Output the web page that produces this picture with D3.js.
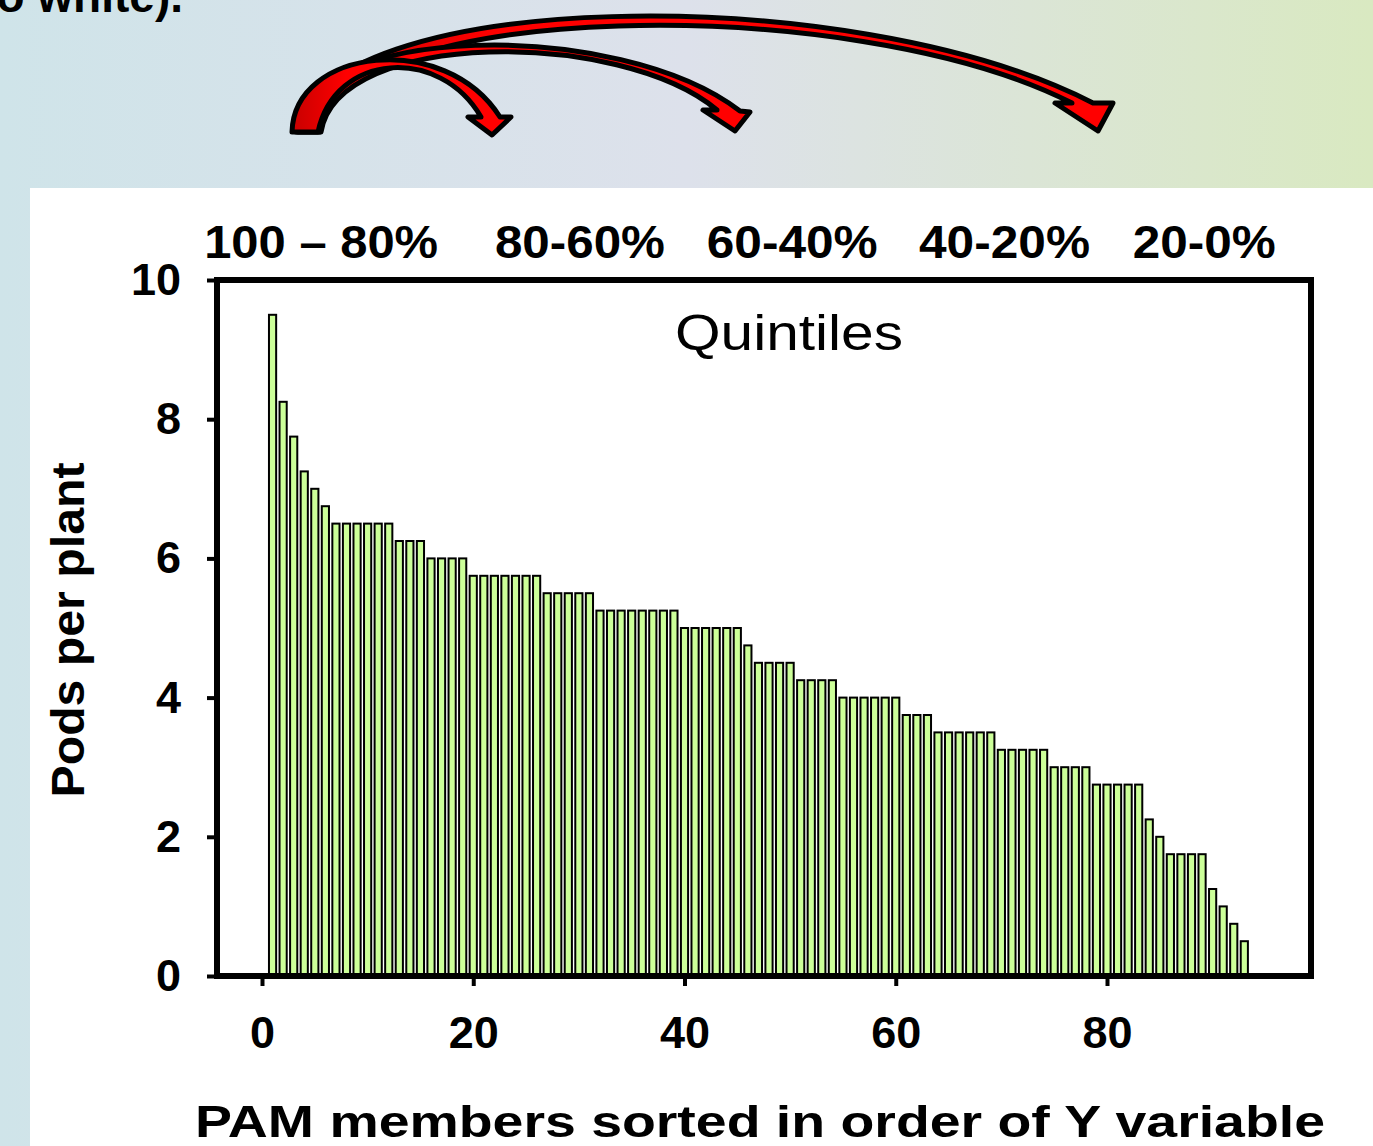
<!DOCTYPE html>
<html><head><meta charset="utf-8">
<script src="https://cdn.jsdelivr.net/npm/d3@7"></script>
<style>
html,body{margin:0;padding:0;overflow:hidden;background:#fff}
svg{display:block}
</style></head>
<body>
<script>
// ---- data ----
const members = [1,2,3,4,5,6,7,8,9,10,11,12,13,14,15,16,17,18,19,20,21,22,23,24,25,26,27,28,29,30,
  31,32,33,34,35,36,37,38,39,40,41,42,43,44,45,46,47,48,49,50,51,52,53,54,55,56,57,58,59,60,
  61,62,63,64,65,66,67,68,69,70,71,72,73,74,75,76,77,78,79,80,81,82,83,84,85,86,87,88,89,90,91,92,93];
const podsPerPlant = [9.5,8.25,7.75,7.25,7.0,6.75,
  6.5,6.5,6.5,6.5,6.5,6.5,
  6.25,6.25,6.25,
  6.0,6.0,6.0,6.0,
  5.75,5.75,5.75,5.75,5.75,5.75,5.75,
  5.5,5.5,5.5,5.5,5.5,
  5.25,5.25,5.25,5.25,5.25,5.25,5.25,5.25,
  5.0,5.0,5.0,5.0,5.0,5.0,
  4.75,
  4.5,4.5,4.5,4.5,
  4.25,4.25,4.25,4.25,
  4.0,4.0,4.0,4.0,4.0,4.0,
  3.75,3.75,3.75,
  3.5,3.5,3.5,3.5,3.5,3.5,
  3.25,3.25,3.25,3.25,3.25,
  3.0,3.0,3.0,3.0,
  2.75,2.75,2.75,2.75,2.75,
  2.25,2.0,
  1.75,1.75,1.75,1.75,
  1.25,1.0,0.75,0.5];
const yTicks = [0,2,4,6,8,10];
const xTicks = [0,20,40,60,80];
const quintileLabels = ["100 \u2013 80%","80-60%","60-40%","40-20%","20-0%"];
const yTitle = "Pods per plant";
const xTitle = "PAM members sorted in order of Y variable";
const noteText = "Quintiles";
const headerText = "to white).";

// ---- layout ----
const W = 1373, H = 1146;
const FONT = "'Liberation Sans', Arial, Helvetica, sans-serif";
const svg = d3.select("body").append("svg").attr("width", W).attr("height", H);

const defs = svg.append("defs");
const bg = defs.append("linearGradient").attr("id","bg").attr("x1","0").attr("x2","1").attr("y1","0").attr("y2","0");
bg.append("stop").attr("offset","0").attr("stop-color","#cfe4e9");
bg.append("stop").attr("offset","0.5").attr("stop-color","#dde1eb");
bg.append("stop").attr("offset","1").attr("stop-color","#d9e9c1");
svg.append("rect").attr("width",W).attr("height",H).attr("fill","url(#bg)");
svg.append("rect").attr("x",30).attr("y",188).attr("width",W-30).attr("height",H-188).attr("fill","#fff");

// header text (cut off at top, as in the source slide)
svg.append("text").attr("x",183).attr("y",12).attr("text-anchor","end")
  .attr("font-family",FONT).attr("font-weight","bold").attr("font-size",46)
  .attr("fill","#000").text(headerText);

// curved arrows
const arrowGrad = defs.append("linearGradient").attr("id","ag").attr("x1","0").attr("x2","1").attr("y1","0").attr("y2","0");
arrowGrad.append("stop").attr("offset","0").attr("stop-color","#c80000");
arrowGrad.append("stop").attr("offset","0.25").attr("stop-color","#ff0000");
arrowGrad.append("stop").attr("offset","1").attr("stop-color","#ff0000");
const arrows = [
  "M 298,132 C 318,-12 850,-22 1093,103 L 1113,103 L 1098,131 L 1055,103 L 1072,103 C 850,-10 335,1 320,132 Z",
  "M 296,132 C 302,22 620,18 740,111 L 750,112 L 735,131 L 703,110 L 717,110 C 620,29 338,29 321,132 Z",
  "M 292,132 C 294,48 445,30 500,117 L 511,117 L 492,135 L 468,117 L 481,117 C 440,46 335,52 318,132 Z"
];
svg.append("g").selectAll("path").data(arrows).join("path")
  .attr("d", d=>d).attr("fill","url(#ag)").attr("stroke","#000")
  .attr("stroke-width",5).attr("stroke-linejoin","round");

// scales
const x = d3.scaleLinear().domain([0,80]).range([262,1107]);
const y = d3.scaleLinear().domain([0,10]).range([976,280]);
const plotLeft = 217, plotRight = 1311;

// bars
const step = x(1)-x(0);
const bw = step*0.68;
svg.append("g").selectAll("rect").data(podsPerPlant).join("rect")
  .attr("x",(d,i)=>x(members[i])-bw/2)
  .attr("y",d=>y(d))
  .attr("width",bw)
  .attr("height",d=>y(0)-y(d))
  .attr("fill","#ccff99").attr("stroke","#000").attr("stroke-width",2);

// frame
svg.append("rect").attr("x",plotLeft).attr("y",y(10)).attr("width",plotRight-plotLeft).attr("height",y(0)-y(10))
  .attr("fill","none").attr("stroke","#000").attr("stroke-width",6);

// axes
const yAxis = d3.axisLeft(y).tickValues(yTicks).tickSize(10).tickPadding(26).tickFormat(d3.format("d"));
const gy = svg.append("g").attr("transform",`translate(${plotLeft},0)`).call(yAxis);
gy.select(".domain").remove();
gy.selectAll(".tick line").attr("stroke","#000").attr("stroke-width",4);
gy.selectAll(".tick text").attr("font-family",FONT).attr("font-weight","bold").attr("font-size",45).attr("fill","#000");

const xAxis = d3.axisBottom(x).tickValues(xTicks).tickSize(10).tickPadding(30).tickFormat(d3.format("d"));
const gx = svg.append("g").attr("transform",`translate(0,${y(0)})`).call(xAxis);
gx.select(".domain").remove();
gx.selectAll(".tick line").attr("stroke","#000").attr("stroke-width",4);
gx.selectAll(".tick text").attr("font-family",FONT).attr("font-weight","bold").attr("font-size",45).attr("fill","#000");

// quintile labels
const qPos = [5.6, 30.1, 50.2, 70.3, 89.2];
const qLen = [234, 170, 171, 171, 143];
svg.append("g").selectAll("text").data(quintileLabels).join("text")
  .attr("x",(d,i)=>x(qPos[i])).attr("y",258).attr("text-anchor","middle")
  .attr("font-family",FONT).attr("font-weight","bold").attr("font-size",46)
  .attr("textLength",(d,i)=>qLen[i]).attr("lengthAdjust","spacingAndGlyphs")
  .attr("fill","#000").text(d=>d);

svg.append("text").attr("x",789).attr("y",350).attr("text-anchor","middle")
  .attr("font-family",FONT).attr("font-size",50).attr("textLength",228).attr("lengthAdjust","spacingAndGlyphs")
  .attr("fill","#000").text(noteText);

// axis titles
svg.append("text").attr("transform","translate(84,630) rotate(-90)").attr("text-anchor","middle")
  .attr("font-family",FONT).attr("font-weight","bold").attr("font-size",46)
  .attr("textLength",335).attr("lengthAdjust","spacingAndGlyphs")
  .attr("fill","#000").text(yTitle);

svg.append("text").attr("x",760).attr("y",1137).attr("text-anchor","middle")
  .attr("font-family",FONT).attr("font-weight","bold").attr("font-size",45)
  .attr("textLength",1130).attr("lengthAdjust","spacingAndGlyphs")
  .attr("fill","#000").text(xTitle);
</script>
</body></html>
